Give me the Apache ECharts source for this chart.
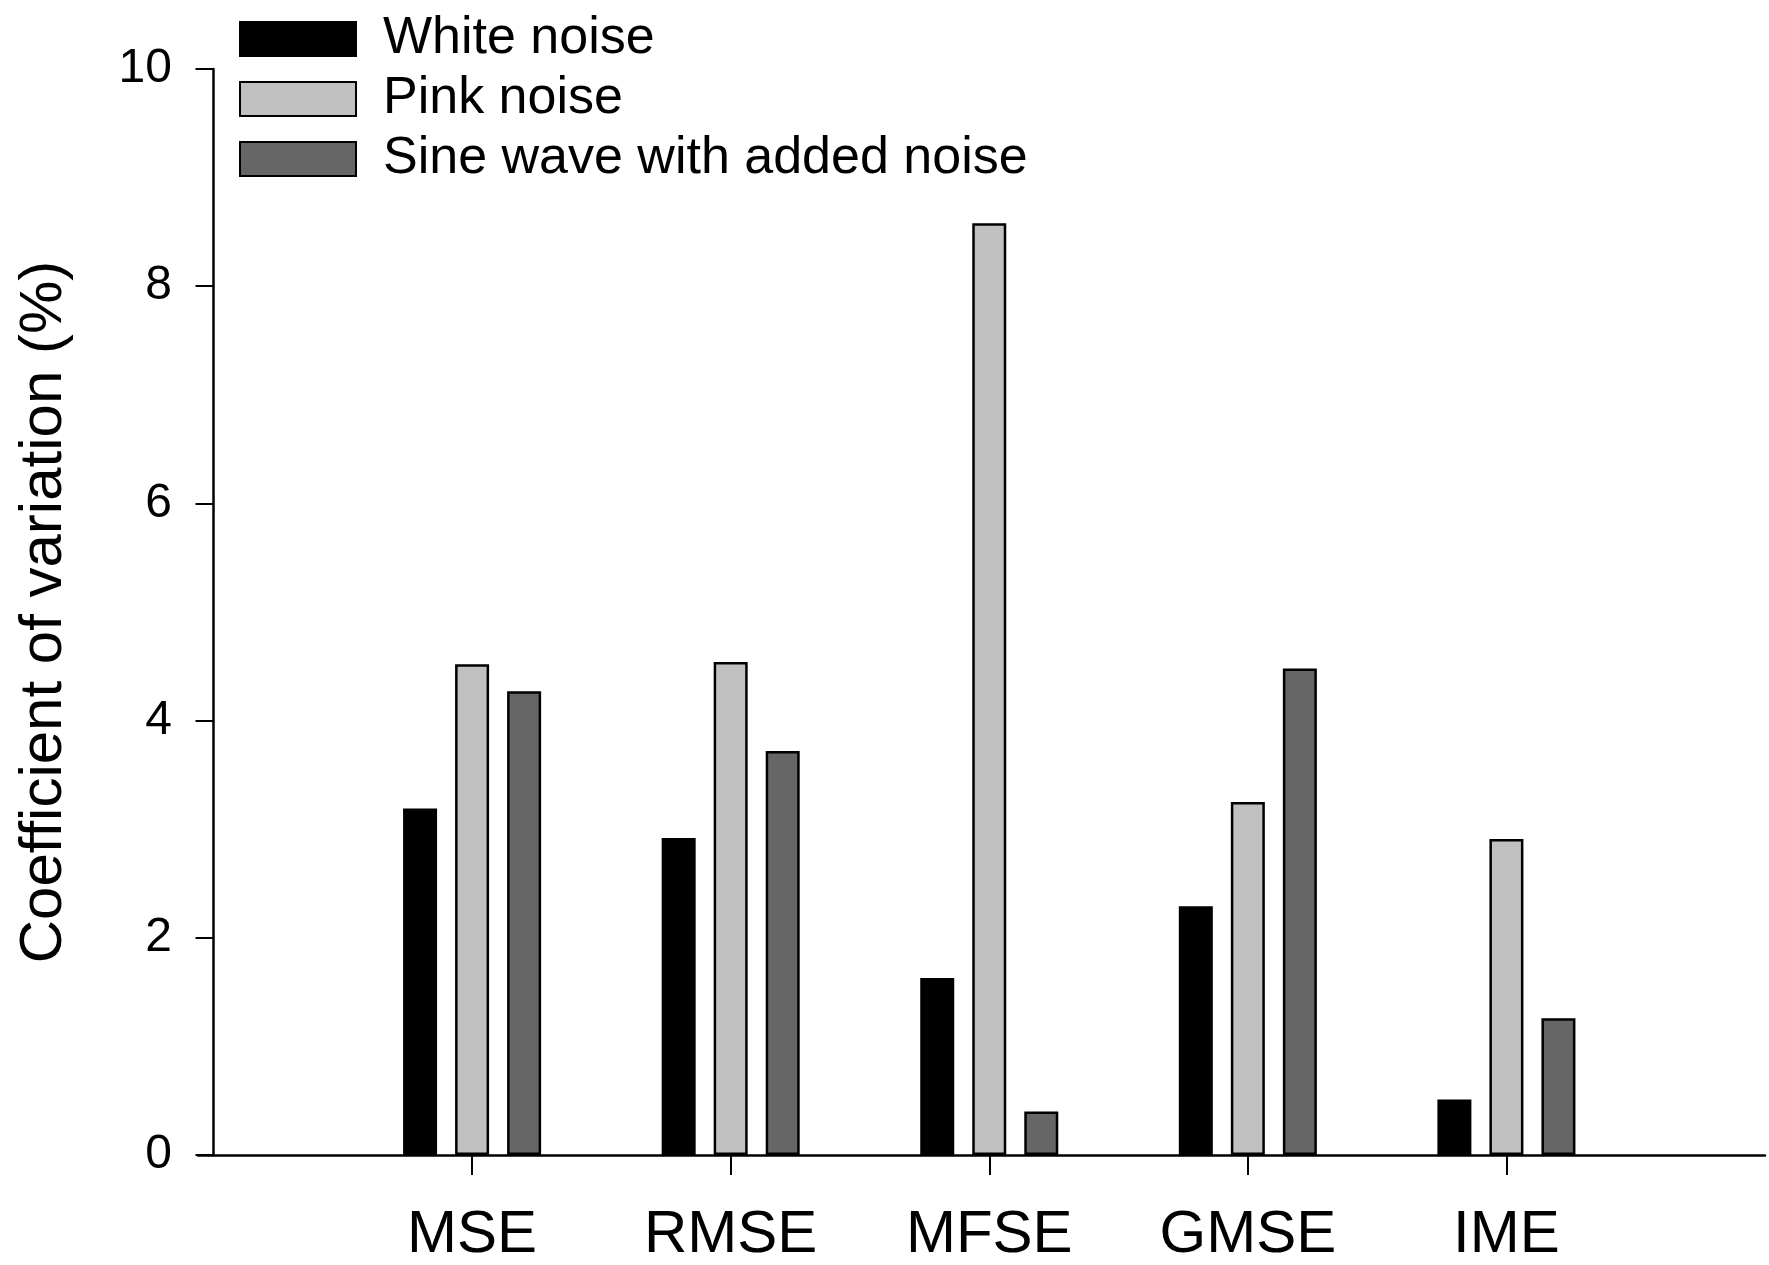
<!DOCTYPE html>
<html><head><meta charset="utf-8">
<script src="https://cdn.jsdelivr.net/npm/echarts@6/dist/echarts.min.js"></script>
<style>html,body{margin:0;padding:0;background:#fff}#c{width:1769px;height:1265px}</style>
</head><body><div id="c"></div>
<script>
const categories = ['MSE', 'RMSE', 'MFSE', 'GMSE', 'IME'];
const whiteNoise = [3.19, 2.92, 1.63, 2.29, 0.51];
const pinkNoise = [4.52, 4.54, 8.58, 3.25, 2.91];
const sineNoise = [4.27, 3.72, 0.40, 4.48, 1.26];
const seriesNames = ['White noise', 'Pink noise', 'Sine wave with added noise'];
const yTicks = [0, 2, 4, 6, 8, 10];

const positions = categories.map((c, i) => i + 1);
const toData = arr => arr.map((v, i) => [positions[i], v]);
const font = 'Liberation Sans, Arial, sans-serif';

const chart = echarts.init(document.getElementById('c'));
chart.setOption({
  animation: false,
  backgroundColor: '#fff',
  grid: { left: 198, right: 4, top: 69, bottom: 110 },
  legend: {
    orient: 'vertical', left: 234, top: 8,
    icon: 'rect',
    itemWidth: 116, itemHeight: 34, itemGap: 8,
    textStyle: { fontFamily: font, fontSize: 52, color: '#000', padding: [0, 0, 0, 22] },
    data: seriesNames
  },
  xAxis: {
    type: 'value', min: -0.06, max: 6,
    axisLine: { lineStyle: { color: '#000', width: 2.5 } },
    axisTick: { show: true, customValues: positions, length: 20, lineStyle: { color: '#000', width: 2 } },
    axisLabel: { customValues: positions, formatter: v => categories[Math.round(v) - 1] || '',
      fontFamily: font, fontSize: 60, color: '#000', margin: 50 },
    splitLine: { show: false }
  },
  yAxis: {
    type: 'value', min: yTicks[0], max: yTicks[yTicks.length - 1], interval: 2,
    name: 'Coefficient of variation (%)', nameLocation: 'middle', nameGap: 124,
    nameTextStyle: { fontFamily: font, fontSize: 60, color: '#000' },
    axisLine: { show: true, lineStyle: { color: '#000', width: 2.5 } },
    axisTick: { show: true, length: 18, lineStyle: { color: '#000', width: 2 } },
    axisLabel: { fontFamily: font, fontSize: 48, color: '#000', margin: 26 },
    splitLine: { show: false }
  },
  series: [
    { name: seriesNames[0], type: 'bar', data: toData(whiteNoise), barWidth: 34, barGap: '53%',
      itemStyle: { color: '#000', borderColor: '#000', borderWidth: 2 } },
    { name: seriesNames[1], type: 'bar', data: toData(pinkNoise), barWidth: 34, barGap: '53%',
      itemStyle: { color: '#c0c0c0', borderColor: '#000', borderWidth: 2.5 } },
    { name: seriesNames[2], type: 'bar', data: toData(sineNoise), barWidth: 34, barGap: '53%',
      itemStyle: { color: '#666666', borderColor: '#000', borderWidth: 2.5 } }
  ]
});
</script></body></html>
